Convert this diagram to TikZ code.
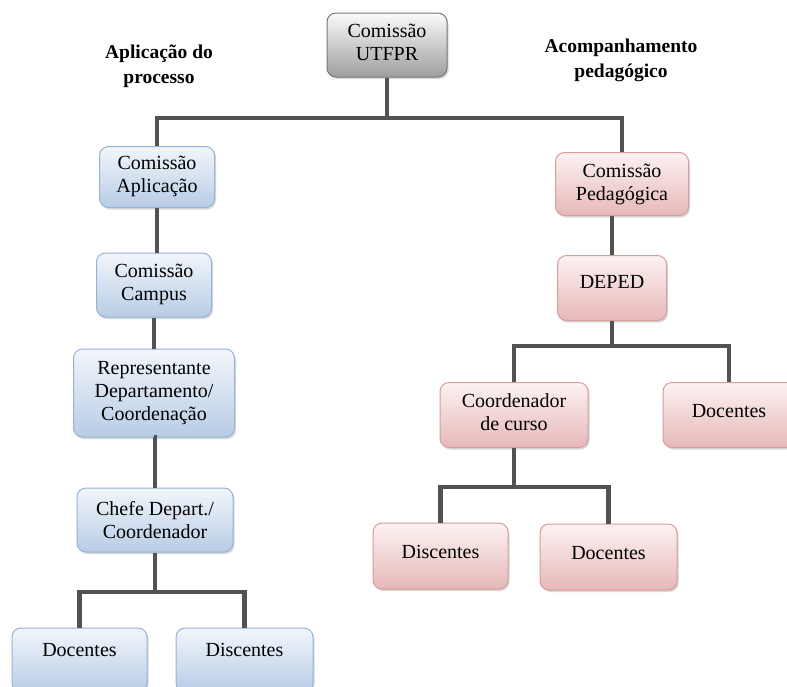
\documentclass[tikz,border=0pt]{standalone}
\usepackage{fontspec}
\setmainfont{Liberation Serif}
\newfontfamily\tnr{Liberation Serif}
\usetikzlibrary{shadows}
\definecolor{lineg}{RGB}{82,82,82}
\definecolor{bluet}{RGB}{242,246,251}
\definecolor{blueb}{RGB}{184,204,229}
\definecolor{blued}{RGB}{150,178,214}
\definecolor{pinkt}{RGB}{253,242,242}
\definecolor{pinkb}{RGB}{230,184,184}
\definecolor{pinkd}{RGB}{216,156,156}
\definecolor{grayt}{RGB}{250,250,250}
\definecolor{grayb}{RGB}{158,158,158}
\definecolor{grayd}{RGB}{120,120,120}
\begin{document}
\begin{tikzpicture}[x=1pt,y=-1pt,
  box/.style={rounded corners=9pt, align=center, inner sep=2pt, line width=1pt,
    font=\tnr\fontsize{20}{23}\selectfont,
    drop shadow={opacity=0.3, shadow xshift=1.5pt, shadow yshift=-2pt}},
  bluebox/.style={box, draw=blued, top color=bluet, bottom color=blueb},
  pinkbox/.style={box, draw=pinkd, top color=pinkt, bottom color=pinkb},
  graybox/.style={box, draw=grayd, top color=grayt, bottom color=grayb},
  title/.style={align=center, font=\tnr\fontsize{19.5}{25}\selectfont\bfseries},
  conn/.style={draw=lineg, line width=4.5pt}
]
\useasboundingbox (0,0) rectangle (787,686);

% titles
\node[title] (tA) at (159,66) {Aplicação do\\processo};
\node[title] (tB) at (621,60) {Acompanhamento\\pedagógico};

% top
\node[graybox, minimum width=120pt, minimum height=64pt, text depth=6pt] (top) at (387,45) {Comissão\\UTFPR};

% left column
\node[bluebox, minimum width=115pt, minimum height=61pt, text depth=6pt] (apl) at (157,177) {Comissão\\Aplicação};
\node[bluebox, minimum width=115pt, minimum height=64pt, text depth=6pt] (campus) at (154,285) {Comissão\\Campus};
\node[bluebox, minimum width=161pt, minimum height=88pt] (rep) at (154,393) {Representante\\Departamento/\\Coordenação};
\node[bluebox, minimum width=156pt, minimum height=64pt] (chefe) at (155,520) {Chefe Depart./\\Coordenador};
\node[bluebox, minimum width=135pt, minimum height=64pt, text depth=20pt] (docL) at (79.5,660) {Docentes};
\node[bluebox, minimum width=137pt, minimum height=64pt, text depth=20pt] (disL) at (244.5,660) {Discentes};

% right column
\node[pinkbox, minimum width=133pt, minimum height=63pt] (ped) at (622,184) {Comissão\\Pedagógica};
\node[pinkbox, minimum width=109pt, minimum height=65pt, text depth=12pt] (deped) at (612,288) {DEPED};
\node[pinkbox, minimum width=148pt, minimum height=65pt, text depth=6pt] (coord) at (514,415) {Coordenador\\de curso};
\node[pinkbox, minimum width=132pt, minimum height=65pt, text depth=9pt] (docR) at (729,415) {Docentes};
\node[pinkbox, minimum width=135pt, minimum height=66pt, text depth=9pt] (disR) at (440.5,556) {Discentes};
\node[pinkbox, minimum width=137pt, minimum height=66pt, text depth=9pt] (docR2) at (608.5,557) {Docentes};

% bus coordinates
\coordinate (b1) at (387,118);
\coordinate (b2) at (155,592);
\coordinate (b3) at (612,346);
\coordinate (b4) at (514,487);

% connectors
\draw[conn] (top.south) -- (b1);
\draw[conn] (apl.north) |- (b1) -| (ped.north);
\draw[conn] (apl.south) -- (campus.north -| apl.south);
\draw[conn] (campus.south) -- (rep.north);
\draw[conn] (rep.south) -- (chefe.south |- rep.south) -- (chefe.north);
\draw[conn] (chefe.south) -- (b2);
\draw[conn] (docL.north) |- (b2) -| (disL.north);
\draw[conn] (deped.north |- ped.south) -- (deped.north);
\draw[conn] (deped.south) -- (b3);
\draw[conn] (coord.north) |- (b3) -| (docR.north);
\draw[conn] (coord.south) -- (b4);
\draw[conn] (disR.north) |- (b4) -| (docR2.north);
\end{tikzpicture}
\end{document}
